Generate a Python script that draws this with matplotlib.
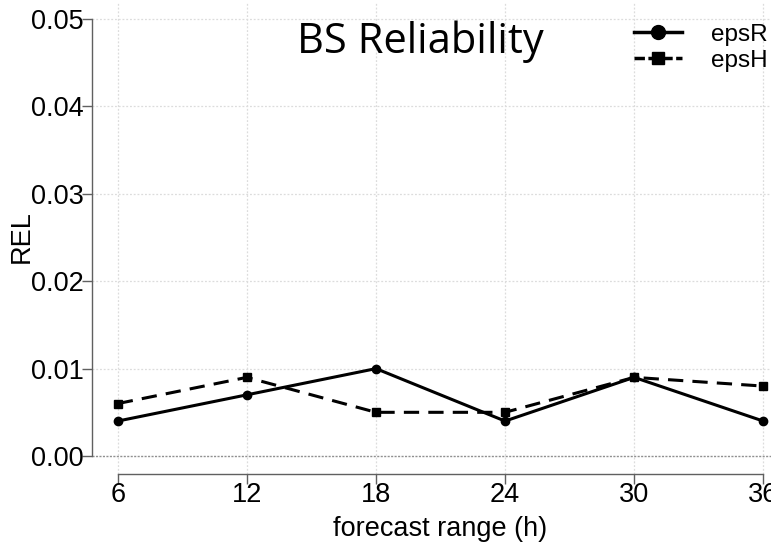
import numpy as np
import matplotlib.pyplot as plt
from matplotlib.lines import Line2D

# data
hours = [6, 12, 18, 24, 30, 36]
eps_r = [0.004, 0.007, 0.010, 0.004, 0.009, 0.004]
eps_h = [0.006, 0.009, 0.005, 0.005, 0.009, 0.008]
yticks = [0.00, 0.01, 0.02, 0.03, 0.04, 0.05]

W, H = 771, 548
fig = plt.figure(figsize=(W / 100, H / 100), dpi=100)
# R-style plot region (extends a bit past the right edge, as in the original)
ax = fig.add_axes([92 / W, (H - 473.5) / H, (789 - 92) / W, (473.5 - 1.5) / H])

ax.set_xlim(4.8, 37.2)
ax.set_ylim(-0.002, 0.052)

# grid
for x in hours:
    ax.axvline(x, color='#dcdcdc', lw=0.9, ls=(0, (1.5, 1.5)), zorder=0)
for y in yticks[1:]:
    ax.axhline(y, color='#dcdcdc', lw=0.9, ls=(0, (1.5, 1.5)), zorder=0)
ax.axhline(0, color='#909090', lw=1.0, ls=(0, (1.5, 1.0)), zorder=0)

ax.plot(hours, eps_r, color='black', lw=2.2, marker='o', ms=6, mfc='black', zorder=3)
ax.plot(hours, eps_h, color='black', lw=2.2, ls=(0, (5, 3)), marker='s', ms=6, mfc='black', zorder=3)

for s in ['top', 'right']:
    ax.spines[s].set_visible(False)
ax.spines['left'].set_bounds(0, 0.05)
ax.spines['bottom'].set_bounds(6, 36)
for s in ['left', 'bottom']:
    ax.spines[s].set_color('#606060')
    ax.spines[s].set_linewidth(1.0)

ax.set_xticks(hours)
ax.set_xticklabels([str(h) for h in hours])
ax.set_yticks(yticks)
ax.set_yticklabels(['%.2f' % v for v in yticks])
ax.tick_params(axis='both', color='#606060', length=7, width=1.0, labelsize=19.5)
ax.tick_params(axis='x', pad=-1)
ax.tick_params(axis='y', pad=-1)
for lab in ax.get_xticklabels() + ax.get_yticklabels():
    lab.set_family('Liberation Sans')

ax.set_xlabel('forecast range (h)', fontsize=19.5, family='Liberation Sans')
ax.set_ylabel('REL', fontsize=19.5, family='Liberation Sans')
ax.xaxis.set_label_coords((440 - 92) / 697, -(529 - 473.5) / 472)
ax.xaxis.label.set_va('center')
ax.yaxis.set_label_coords((22 - 92) / 697, (473.5 - 237) / 472)
ax.yaxis.label.set_va('center')

fig.text(420 / W, 1 - 42 / H, 'BS Reliability', fontsize=30, family='Open Sans',
         ha='center', va='center')

handles = [
    Line2D([], [], color='black', lw=2.5, marker='o', ms=10),
    Line2D([], [], color='black', lw=2.5, ls=(0, (3, 1)), marker='s', ms=9),
]
leg = fig.legend(handles, ['epsR', 'epsH'], loc='upper right',
                 bbox_to_anchor=(790 / W, 1 - 2 / H), frameon=False,
                 prop={'family': 'Liberation Sans', 'size': 17.5},
                 handlelength=2.0, labelspacing=0.15, handletextpad=1.2)

fig.savefig('out.png', dpi=100)
